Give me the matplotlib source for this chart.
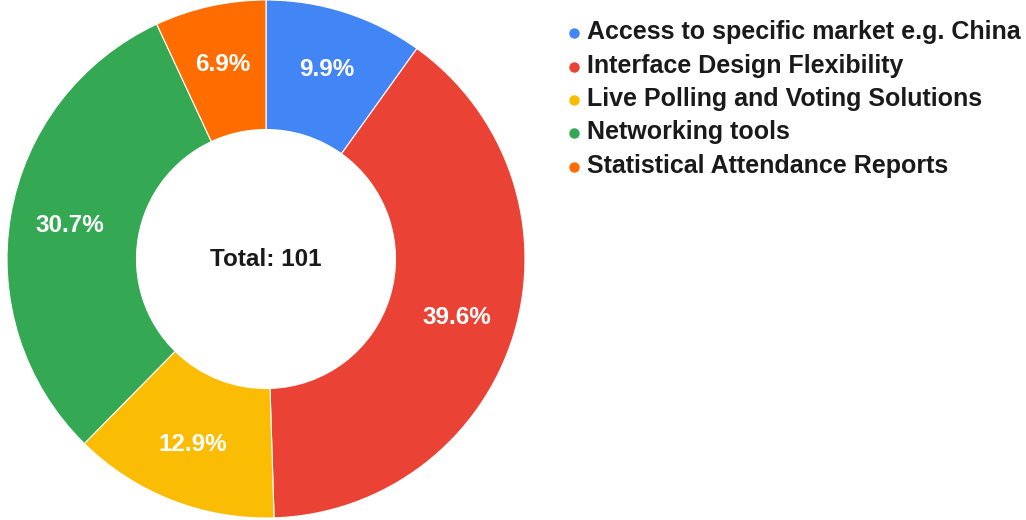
import matplotlib
matplotlib.use("Agg")
import matplotlib.pyplot as plt
from matplotlib.lines import Line2D

categories = ["Access to specific market e.g. China", "Interface Design Flexibility",
              "Live Polling and Voting Solutions", "Networking tools",
              "Statistical Attendance Reports"]
values = [10, 40, 13, 31, 7]
colors = ["#4285F4", "#EA4335", "#FBBC04", "#34A853", "#FF6D01"]

plt.rcParams['font.family'] = ['Liberation Sans', 'DejaVu Sans']
W, H = 1026, 520
fig = plt.figure(figsize=(W / 100, H / 100), dpi=100)
cx, cy, R = 266, 259, 259
ax = fig.add_axes([(cx - R) / W, (H - cy - R) / H, 2 * R / W, 2 * R / H])
total = sum(values)
wedges, texts, autotexts = ax.pie(
    values, colors=colors, startangle=90, counterclock=False, radius=1,
    wedgeprops=dict(width=0.5, edgecolor='white', linewidth=0.8),
    autopct=lambda p: f"{p:.1f}%", pctdistance=0.77,
    textprops=dict(color='white', fontsize=17.5, fontweight='bold'))
ax.set_xlim(-1, 1)
ax.set_ylim(-1, 1)
ax.text(0, 0, f"Total: {total}", ha='center', va='center', fontsize=17.5,
        fontweight='bold', color='#1a1a1a')

rows = [32, 66, 99, 132, 166]
for lab, col, y in zip(categories, colors, rows):
    fig.text(587 / W, 1 - y / H, lab, ha='left', va='center', fontsize=18,
             fontweight='bold', color='#1a1a1a')
    fig.add_artist(Line2D([574 / W], [1 - (y + 1) / H], marker='o', markersize=6.5,
                          color=col, transform=fig.transFigure, linestyle='none'))

fig.savefig("out.png", dpi=100)
